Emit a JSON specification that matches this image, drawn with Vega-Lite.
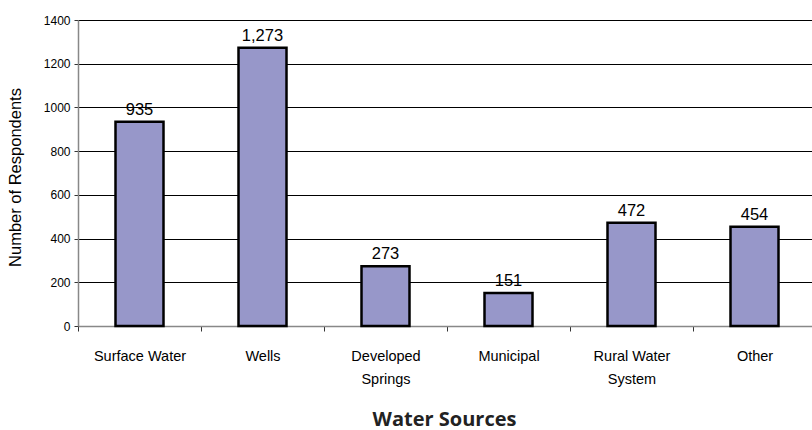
{
  "$schema": "https://vega.github.io/schema/vega-lite/v6.json",
  "width": 738,
  "height": 306,
  "autosize": "none",
  "padding": {"left": 78, "top": 20, "right": 0, "bottom": 104},
  "background": "white",
  "config": {"view": {"stroke": null}},
  "data": {
    "values": [
      {"source": "Surface Water", "count": 935},
      {"source": "Wells", "count": 1273},
      {"source": "Developed Springs", "count": 273},
      {"source": "Municipal", "count": 151},
      {"source": "Rural Water System", "count": 472},
      {"source": "Other", "count": 454}
    ]
  },
  "encoding": {
    "x": {
      "field": "source",
      "type": "nominal",
      "sort": null,
      "scale": {"paddingInner": 0, "paddingOuter": 0},
      "axis": {
        "title": "Water Sources",
        "titleFont": "Open Sans",
        "titleFontWeight": "bold",
        "titleFontSize": 20,
        "titleColor": "#222",
        "titleX": 366,
        "titleY": 99,
        "titleBaseline": "alphabetic",
        "labelAngle": 0,
        "labelFont": "Liberation Sans",
        "labelFontSize": 14.5,
        "labelColor": "black",
        "labelLineHeight": 23,
        "labelPadding": 18,
        "labelBaseline": "top",
        "labelExpr": "datum.label == 'Developed Springs' ? ['Developed', 'Springs'] : datum.label == 'Rural Water System' ? ['Rural Water', 'System'] : datum.label",
        "tickBand": "extent",
        "tickSize": 5,
        "tickColor": "#333",
        "domainColor": "#888",
        "domainWidth": 1.5,
        "grid": false
      }
    },
    "y": {
      "field": "count",
      "type": "quantitative",
      "scale": {"domain": [0, 1400], "nice": false},
      "axis": {
        "title": "Number of Respondents",
        "titleFont": "Liberation Sans",
        "titleFontWeight": "normal",
        "titleFontSize": 16.5,
        "titleColor": "black",
        "titleAngle": -90,
        "titleX": -63,
        "titleY": 157,
        "titleAlign": "center",
        "titleBaseline": "middle",
        "values": [0, 200, 400, 600, 800, 1000, 1200, 1400],
        "format": "d",
        "labelFont": "Liberation Sans",
        "labelFontSize": 12,
        "labelColor": "black",
        "labelPadding": 4,
        "tickSize": 4,
        "tickColor": "#333",
        "domainColor": "#888",
        "domainWidth": 1.5,
        "grid": true,
        "gridColor": "black",
        "gridWidth": 1
      }
    }
  },
  "layer": [
    {
      "mark": {"type": "bar", "size": 48, "color": "#9797C9", "stroke": "black", "strokeWidth": 2.5}
    },
    {
      "mark": {"type": "text", "baseline": "bottom", "dy": -4, "font": "Liberation Sans", "fontSize": 16.5, "color": "black"},
      "encoding": {"text": {"field": "count", "type": "quantitative", "format": ","}}
    }
  ]
}
